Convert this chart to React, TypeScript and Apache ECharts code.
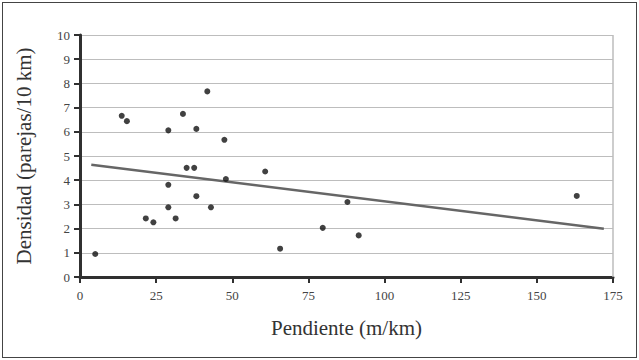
import React, { useEffect, useRef } from "react";
import * as echarts from "echarts";

const pendiente = [13.7, 15.4, 29.0, 33.8, 38.2, 41.8, 47.4, 35.0, 37.5, 47.9, 60.8, 29.0, 38.2, 29.0, 43.0, 21.6, 31.4, 24.1, 5.0, 65.7, 87.8, 79.7, 91.5, 163.1];
const densidad = [6.66, 6.44, 6.06, 6.74, 6.12, 7.67, 5.67, 4.51, 4.51, 4.05, 4.36, 3.81, 3.34, 2.88, 2.88, 2.42, 2.42, 2.26, 0.95, 1.17, 3.10, 2.03, 1.72, 3.35];
const trendX = [3.7, 172];
const trendY = [4.64, 1.99];
const xMax = 175;

const FONT = "Liberation Serif";
const AXIS = "#303030";

export default function App() {
  const ref = useRef<HTMLDivElement>(null);
  useEffect(() => {
    document.body.style.margin = "0";
    const chart = echarts.init(ref.current!, undefined, { renderer: "svg" });
    chart.setOption({
      animation: false,
      backgroundColor: "#fff",
      textStyle: { fontFamily: FONT },
      grid: { left: 80, right: 26, top: 35, bottom: 83, show: false },
      xAxis: {
        type: "value",
        min: 0,
        max: xMax,
        interval: 25,
        name: "Pendiente (m/km)",
        nameLocation: "middle",
        nameGap: 40,
        nameTextStyle: { fontFamily: FONT, fontSize: 21, color: "#333" },
        axisLine: { show: true, onZero: false, lineStyle: { color: AXIS, width: 3 } },
        axisTick: { show: true, inside: false, length: 6, lineStyle: { color: AXIS, width: 2 } },
        axisLabel: { fontFamily: FONT, fontSize: 13, color: "#444", margin: 12 },
        splitLine: { show: false },
      },
      yAxis: {
        type: "value",
        min: 0,
        max: 10,
        interval: 1,
        name: "Densidad (parejas/10 km)",
        nameLocation: "middle",
        nameGap: 46,
        nameTextStyle: { fontFamily: FONT, fontSize: 21, color: "#333" },
        axisLine: { show: true, lineStyle: { color: AXIS, width: 3 } },
        axisTick: { show: true, inside: false, length: 6, lineStyle: { color: AXIS, width: 2 } },
        axisLabel: { fontFamily: FONT, fontSize: 13, color: "#444", margin: 10 },
        splitLine: { show: true, lineStyle: { color: "#bdbdbd", width: 1 } },
      },
      series: [
        {
          type: "line",
          data: trendX.map((x, i) => [x, trendY[i]]),
          symbol: "none",
          lineStyle: { color: "#666", width: 2.5 },
          z: 2,
          markLine: {
            silent: true,
            symbol: "none",
            label: { show: false },
            lineStyle: { color: "#bdbdbd", width: 1.5, type: "solid" },
            data: [{ xAxis: xMax }],
          },
        },
        {
          type: "scatter",
          data: pendiente.map((x, i) => [x, densidad[i]]),
          symbolSize: 6,
          itemStyle: { color: "#111" },
          z: 3,
        },
      ],
    });
    return () => chart.dispose();
  }, []);
  return (
    <>
      <div ref={ref} style={{ position: "absolute", left: 0, top: 0, width: 639, height: 360 }} />
      <div
        style={{
          position: "absolute",
          left: 2,
          top: 2,
          width: 635,
          height: 356,
          boxSizing: "border-box",
          border: "1.5px solid #444",
          pointerEvents: "none",
        }}
      />
    </>
  );
}
